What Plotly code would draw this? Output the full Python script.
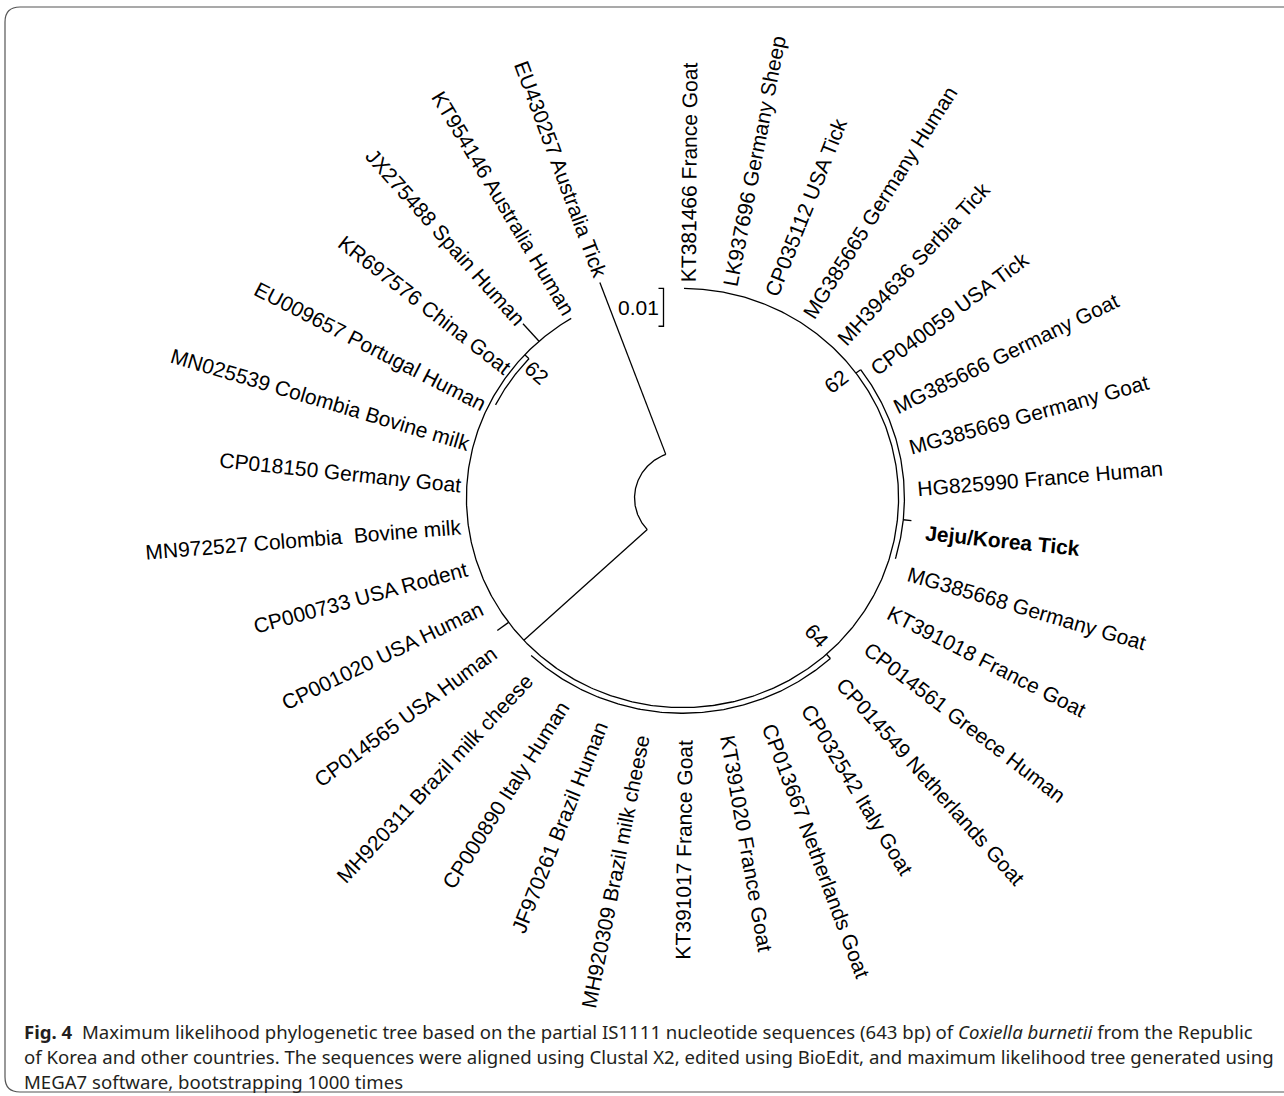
import math
import plotly.graph_objects as go

# ---------------- data ----------------
leaf_names = [
    "KT381466 France Goat", "LK937696 Germany Sheep", "CP035112 USA Tick", "MG385665 Germany Human",
    "MH394636 Serbia Tick", "CP040059 USA Tick", "MG385666 Germany Goat", "MG385669 Germany Goat",
    "HG825990 France Human", "Jeju/Korea Tick", "MG385668 Germany Goat", "KT391018 France Goat",
    "CP014561 Greece Human", "CP014549 Netherlands Goat", "CP032542 Italy Goat", "CP013667 Netherlands Goat",
    "KT391020 France Goat", "KT391017 France Goat", "MH920309 Brazil milk cheese", "JF970261 Brazil Human",
    "CP000890 Italy Human", "MH920311 Brazil milk cheese", "CP014565 USA Human", "CP001020 USA Human",
    "CP000733 USA Rodent", "MN972527 Colombia\u00a0 Bovine milk", "CP018150 Germany Goat",
    "MN025539 Colombia Bovine milk", "EU009657 Portugal Human", "KR697576 China Goat",
    "JX275488 Spain Human", "KT954146 Australia Human", "EU430257 Australia Tick",
]
leaf_bold = ["Jeju/Korea Tick"]
leaf_parent = (["backbone"] * 5 + ["R62"] * 6 + ["backbone"] * 2 + ["C64"] * 9 +
               ["backbone"] * 6 + ["UL"] * 2 + ["backbone"] * 2 + ["root"])
# tip depth (substitutions/site); None = zero-length terminal branch
leaf_depth = [None] * 33
leaf_depth[9] = 0.0590    # Jeju/Korea Tick
leaf_depth[22] = 0.0590   # CP014565
leaf_depth[30] = 0.0616   # JX275488
leaf_depth[32] = 0.0608   # EU430257

node_names = ["root", "backbone", "UL", "R62", "C64"]
node_parent = [None, "root", "backbone", "backbone", "backbone"]
node_depth = [0.0123, 0.0554, 0.0539, 0.0569, 0.0569]
node_first = [21.4, 0, 28, 5, 13]
node_last = [32, 31, 29.5, 10, 21]
node_stem = [None, 21.4, 29.5, 5, 13]
node_support = [None, None, "62", "62", "64"]

scale_bar_value = 0.01
scale_bar_label = "0.01"

caption_lines = [
    "<b>Fig. 4</b>\u00a0 Maximum likelihood phylogenetic tree based on the partial IS1111 nucleotide sequences (643 bp) of <i>Coxiella burnetii</i> from the Republic",
    "of Korea and other countries. The sequences were aligned using Clustal X2, edited using BioEdit, and maximum likelihood tree generated using",
    "MEGA7 software, bootstrapping 1000 times",
]

# ---------------- layout constants ----------------
W, H = 1284, 1096
CX, CY = 682.5, 498.0          # centre of the branch arcs
LCX, LCY = 687.0, 508.5        # centre of the label ring
LABEL_R = 227.0
SY = 0.97
PX = 3900.0          # pixels per substitution unit
THETA0 = 89.6
DTHETA = 10.6
FS = 21
GAP = 9
FONT = "Liberation Sans, Arial, Helvetica, sans-serif"

REG = dict(zip("ABCDEFGHIJKLMNOPQRSTUVWXYZ",
               [667, 667, 722, 722, 667, 611, 778, 722, 278, 500, 667, 556, 833, 722, 778, 667, 778, 722, 667, 611, 722, 667, 944, 667, 667, 611]))
REG.update(zip("abcdefghijklmnopqrstuvwxyz",
               [556, 556, 500, 556, 556, 278, 556, 556, 222, 222, 500, 222, 833, 556, 556, 556, 556, 333, 500, 278, 556, 500, 722, 500, 500, 500]))
BLD = dict(zip("ABCDEFGHIJKLMNOPQRSTUVWXYZ",
               [722, 722, 722, 722, 667, 611, 778, 722, 278, 556, 722, 611, 833, 722, 778, 667, 778, 722, 667, 611, 722, 667, 944, 667, 667, 611]))
BLD.update(zip("abcdefghijklmnopqrstuvwxyz",
               [556, 611, 556, 611, 556, 333, 611, 611, 278, 278, 556, 278, 889, 611, 611, 611, 611, 389, 556, 333, 611, 556, 778, 556, 556, 500]))
for d in (REG, BLD):
    for ch in "0123456789":
        d[ch] = 556
    d[" "] = 278
    d["\u00a0"] = 278
    d["/"] = 278
    d["."] = 278


def text_w(s, bold=False):
    t = BLD if bold else REG
    return sum(t.get(c, 556) for c in s) * FS / 1000.0


def theta(p):
    return THETA0 - DTHETA * p


def xy(p, r):
    a = math.radians(theta(p))
    return CX + r * math.cos(a), CY - r * SY * math.sin(a)


depth_of = dict(zip(node_names, node_depth))

xs, ys = [], []


def add_arc(p1, p2, r):
    n = max(2, int(abs(p2 - p1) * DTHETA / 0.5) + 1)
    for k in range(n):
        p = p1 + (p2 - p1) * k / (n - 1)
        x, y = xy(p, r)
        xs.append(x)
        ys.append(y)
    xs.append(None)
    ys.append(None)


def add_radial(p, r1, r2):
    for r in (r1, r2):
        x, y = xy(p, r)
        xs.append(x)
        ys.append(y)
    xs.append(None)
    ys.append(None)


# internal nodes
for name, par, dep, f, l, st in zip(node_names, node_parent, node_depth, node_first, node_last, node_stem):
    add_arc(f, l, dep * PX)
    if par is not None:
        add_radial(st, depth_of[par] * PX, dep * PX)

annotations = []


def norm(a):
    while a > 180:
        a -= 360
    while a <= -180:
        a += 360
    return a


# leaves
for i, (name, par, tip) in enumerate(zip(leaf_names, leaf_parent, leaf_depth)):
    pr = depth_of[par] * PX
    tr = pr if tip is None else tip * PX
    if tr > pr + 0.5:
        add_radial(i, pr, tr)
    bold = name in leaf_bold
    w = text_w(name, bold)
    th = norm(theta(i))
    a = math.radians(th)
    r_lab = max(LABEL_R, tr + GAP)
    x0 = LCX + r_lab * math.cos(a)
    y0 = LCY - r_lab * math.sin(a)
    xc = x0 + (w / 2) * math.cos(a)
    yc = y0 - (w / 2) * math.sin(a)
    ta = -th if -90 < th <= 90 else norm(180 - th)
    annotations.append(dict(
        x=xc, y=yc, xref="x", yref="y", text=("<b>%s</b>" % name) if bold else name,
        showarrow=False, xanchor="center", yanchor="middle", textangle=ta,
        font=dict(family=FONT, size=FS, color="#000000")))

# bootstrap values
for name, dep, st, sup in zip(node_names, node_depth, node_stem, node_support):
    if sup is None:
        continue
    p = st - 0.15
    th = norm(theta(p))
    x, y = xy(p, depth_of["backbone"] * PX - 21)
    ta = -th if -90 < th <= 90 else norm(180 - th)
    annotations.append(dict(
        x=x, y=y, xref="x", yref="y", text=sup, showarrow=False,
        xanchor="center", yanchor="middle", textangle=ta,
        font=dict(family=FONT, size=FS, color="#000000")))

# scale bar (vertical bracket)
bar_x = CX - 19
bar_top = CY - depth_of["backbone"] * PX * SY
bar_bot = bar_top + scale_bar_value * PX * SY
for px_, py_ in [(bar_x - 5, bar_top), (bar_x, bar_top), (bar_x, bar_bot), (bar_x - 5, bar_bot)]:
    xs.append(px_)
    ys.append(py_)
xs.append(None)
ys.append(None)
annotations.append(dict(
    x=bar_x - 3, y=(bar_top + bar_bot) / 2, xref="x", yref="y", text=scale_bar_label,
    showarrow=False, xanchor="right", yanchor="middle",
    font=dict(family=FONT, size=FS, color="#000000")))

# caption
for k, line in enumerate(caption_lines):
    annotations.append(dict(
        x=22, y=1031 + 25 * k, xref="x", yref="y", text=line, showarrow=False,
        xanchor="left", yanchor="middle",
        font=dict(family="Noto Sans, Open Sans, sans-serif", size=18.6, color="#231f20")))

fig = go.Figure()
fig.add_trace(go.Scatter(x=xs, y=ys, mode="lines", line=dict(color="#000000", width=1.3),
                         hoverinfo="skip", showlegend=False))

fig.update_layout(
    width=W, height=H, margin=dict(l=0, r=0, t=0, b=0),
    paper_bgcolor="white", plot_bgcolor="white", showlegend=False,
    xaxis=dict(range=[0, W], visible=False, fixedrange=True),
    yaxis=dict(range=[H, 0], visible=False, fixedrange=True),
    annotations=annotations,
    shapes=[dict(type="path", xref="x", yref="y",
                 path="M 1300,7 L 20,7 Q 5,7 5,22 L 5,1077 Q 5,1092 20,1092 L 1300,1092",
                 line=dict(color="#555555", width=1.2))],
)

fig.write_html("out.html", config={"displayModeBar": False},
               post_script="document.body.style.margin='0';document.body.style.overflow='hidden';")
